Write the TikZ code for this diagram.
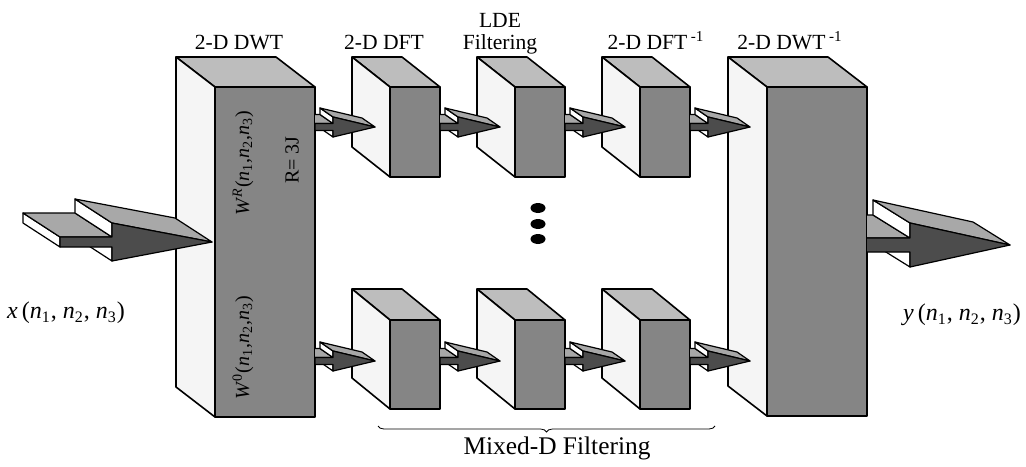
\documentclass[tikz,border=0pt]{standalone}
\usepackage{fontspec}
\setmainfont{Liberation Serif}
\usetikzlibrary{decorations.pathreplacing}
\definecolor{facegray}{gray}{0.52}
\definecolor{topgray}{gray}{0.74}
\definecolor{sidegray}{gray}{0.96}
\definecolor{arrdark}{gray}{0.30}
\definecolor{arrlight}{gray}{0.66}
\tikzset{
  frontf/.style={fill=facegray, draw=black, line width=0.8pt, line join=round},
  topf/.style={fill=topgray, draw=black, line width=0.8pt, line join=round},
  sidef/.style={fill=sidegray, draw=black, line width=0.8pt, line join=round},
  afront/.style={fill=arrdark, draw=black, line width=0.6pt, line join=round},
  atop/.style={fill=arrlight, draw=black, line width=0.6pt, line join=round},
  aside/.style={fill=white, draw=black, line width=0.6pt, line join=round},
  lab/.style={font=\fontsize{10.8}{11}\selectfont, inner sep=0pt},
  sig/.style={font=\fontsize{12}{14}\selectfont, inner sep=0pt},
  inlab/.style={font=\fontsize{10}{12}\selectfont, inner sep=0pt, rotate=90},
  brc/.style={decorate, decoration={brace, mirror, amplitude=3pt}, line width=0.4pt},
}
\newcommand{\nn}[1]{\textit{n}\textsubscript{#1}}
% \cube{x1}{y1}{x2}{y2}{dx}{dy}: front face and depth shift
\newcommand{\cube}[6]{%
  \filldraw[topf] (#1,#2) -- (#3,#2) -- ({#3+#5},{#2+#6}) -- ({#1+#5},{#2+#6}) -- cycle;
  \filldraw[sidef] (#1,#2) -- (#1,#4) -- ({#1+#5},{#4+#6}) -- ({#1+#5},{#2+#6}) -- cycle;
  \filldraw[frontf] (#1,#2) rectangle (#3,#4);
}
% \slab{xs}{yc}{xb}{xt}{hs}{hb}{dx}{dy}: flat 3-D arrow
\newcommand{\slab}[8]{%
  \coordinate (p1) at (#1,{#2-#5});
  \coordinate (p2) at (#3,{#2-#5});
  \coordinate (p3) at (#3,{#2-#6});
  \coordinate (p4) at (#4,#2);
  \coordinate (p5) at (#3,{#2+#6});
  \coordinate (p6) at (#3,{#2+#5});
  \coordinate (p7) at (#1,{#2+#5});
  \filldraw[aside] (p6) -- (p5) -- ([shift={(#7,#8)}]p5) -- ([shift={(#7,#8)}]p6) -- cycle;
  \filldraw[aside] (p7) -- (p1) -- ([shift={(#7,#8)}]p1) -- ([shift={(#7,#8)}]p7) -- cycle;
  \filldraw[atop] (p1) -- (p2) -- ([shift={(#7,#8)}]p2) -- ([shift={(#7,#8)}]p1) -- cycle;
  \filldraw[aside] (p2) -- (p3) -- ([shift={(#7,#8)}]p3) -- ([shift={(#7,#8)}]p2) -- cycle;
  \filldraw[atop] (p3) -- (p4) -- ([shift={(#7,#8)}]p4) -- ([shift={(#7,#8)}]p3) -- cycle;
  \filldraw[afront] (p1) -- (p2) -- (p3) -- (p4) -- (p5) -- (p6) -- (p7) -- cycle;
}
\newcommand{\link}[2]{%
  \begin{scope}
    \clip (#1,0) rectangle (1026,466);
    \slab{#1}{#2}{#1+18}{#1+60}{3.5}{10}{-13}{-9}
  \end{scope}
}

\begin{document}
\begin{tikzpicture}[x=0.5pt, y=-0.5pt]
  \useasboundingbox (0,0) rectangle (1026,466);
  % wavelet blocks
  \cube{215}{87}{315}{417}{-39}{-30}
  \cube{767}{87}{867}{416}{-39}{-30}
  % filter cubes, upper and lower band
  \foreach \xa in {390,515,640} {
    \cube{\xa}{87}{\xa+50}{177}{-38}{-30}
    \cube{\xa}{320}{\xa+50}{409}{-38}{-31}
  }
  % arrows
  \slab{60}{242}{112}{212}{5}{19}{-37}{-24}
  \begin{scope}
    \clip (867,0) rectangle (1026,466);
    \slab{860}{245}{910}{1010}{7}{22}{-37}{-23}
  \end{scope}
  \foreach \xs in {315,440,565,690} {
    \link{\xs}{127}
    \link{\xs}{361}
  }
  % dots
  \foreach \yd in {208,224,239}
    \fill (538,\yd) ellipse (3.75pt and 2.5pt);
  % labels
  \node[lab, anchor=base] (dwtlab) at (239,49) {2-D DWT};
  \node[lab, anchor=base] (dftlab) at (384,49) {2-D DFT};
  \node[lab, anchor=base, align=center] (ldelab) at (500,49) {LDE\\Filtering};
  \node[lab, anchor=base] (idftlab) at (656,49) {2-D DFT\,\textsuperscript{-1}};
  \node[lab, anchor=base] (idwtlab) at (790,49) {2-D DWT\,\textsuperscript{-1}};
  \node[inlab] (wrlab) at (243,163) {\textit{W}\textsuperscript{\textit{R}}(\nn{1},\nn{2},\nn{3})};
  \node[inlab] (rlab) at (292,160) {R= 3J};
  \node[inlab] (w0lab) at (243,348) {\textit{W}\textsuperscript{0}(\nn{1},\nn{2},\nn{3})};
  \node[sig] (xlab) at (66,313) {\textit{x}\,(\nn{1}, \nn{2}, \nn{3})};
  \node[sig] (ylab) at (962,315) {\textit{y}\,(\nn{1}, \nn{2}, \nn{3})};
  \coordinate (bl) at (378,426);
  \coordinate (br) at (715,426);
  \draw[brc] (bl) -- (br);
  \node[font=\fontsize{12.7}{14}\selectfont, inner sep=0pt] (mixlab) at (557,448) {Mixed-D Filtering};
\end{tikzpicture}
\end{document}
